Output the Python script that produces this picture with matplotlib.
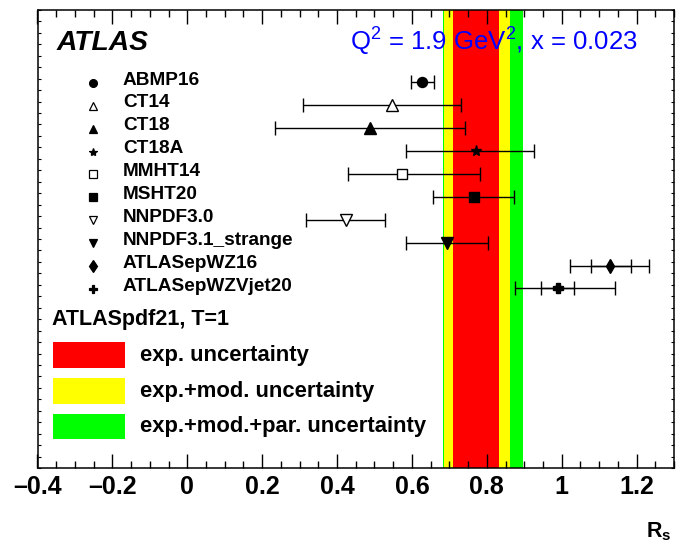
import matplotlib
matplotlib.use("Agg")
import matplotlib.pyplot as plt
import matplotlib.transforms as mtransforms
from matplotlib.ticker import MultipleLocator, FuncFormatter

plt.rcParams['font.family'] = ['Liberation Sans', 'DejaVu Sans']
plt.rcParams['font.weight'] = 'bold'
plt.rcParams['mathtext.fontset'] = 'custom'
plt.rcParams['mathtext.rm'] = 'Liberation Sans:normal'
plt.rcParams['mathtext.bf'] = 'Liberation Sans:bold'
plt.rcParams['mathtext.it'] = 'Liberation Sans:italic:normal'

# ---- data ----
pdf_names = ["ABMP16", "CT14", "CT18", "CT18A", "MMHT14", "MSHT20",
             "NNPDF3.0", "NNPDF3.1_strange", "ATLASepWZ16", "ATLASepWZVjet20"]
rs_central = [0.628, 0.548, 0.488, 0.770, 0.573, 0.767, 0.423, 0.694, 1.130, 0.989]
rs_low = [0.598, 0.308, 0.235, 0.584, 0.430, 0.656, 0.317, 0.585, 1.022, 0.874]
rs_high = [0.660, 0.731, 0.741, 0.925, 0.783, 0.872, 0.528, 0.802, 1.232, 1.143]
# inner (experimental) errors for the ATLAS fits
inner_names = ["ATLASepWZ16", "ATLASepWZVjet20"]
inner_low = [1.077, 0.945]
inner_high = [1.184, 1.032]

band_labels = ["exp. uncertainty", "exp.+mod. uncertainty", "exp.+mod.+par. uncertainty"]
band_low = [0.710, 0.685, 0.684]
band_high = [0.833, 0.862, 0.897]
band_colors = ["#ff0000", "#ffff00", "#00ff00"]

# marker styles: (marker, filled, size plot, size legend)
styles = {
    "ABMP16": ("o", True, 7.2, 5.6),
    "CT14": ("^", False, 8.0, 6.0),
    "CT18": ("^", True, 8.0, 6.0),
    "CT18A": ("*", True, 8.0, 6.0),
    "MMHT14": ("s", False, 7.2, 5.6),
    "MSHT20": ("s", True, 7.6, 5.6),
    "NNPDF3.0": ("v", False, 8.0, 6.0),
    "NNPDF3.1_strange": ("v", True, 8.0, 6.0),
    "ATLASepWZ16": ("d", True, 7.5, 6.0),
    "ATLASepWZVjet20": ("P", True, 7.5, 6.0),
}

W, H = 676, 552
fig = plt.figure(figsize=(W / 100, H / 100), dpi=100)
L, R, T, B = 37.5, 674, 10, 468
ax = fig.add_axes([L / W, 1 - B / H, (R - L) / W, (B - T) / H])
ax.set_xlim(-0.4, 1.3)
ax.set_ylim(0, 20)


def fx(px):
    return (px - L) / (R - L)


def fy(py):
    return (B - py) / (B - T)


# bands (widest first)
for lo, hi, c in sorted(zip(band_low, band_high, band_colors), key=lambda t: -(t[1] - t[0])):
    ax.axvspan(lo, hi, color=c, lw=0, zorder=1)

blend = mtransforms.blended_transform_factory(ax.transAxes, ax.transData)
row_y = [16.84 - i for i in range(len(pdf_names))]
for i, name in enumerate(pdf_names):
    m, filled, ms, msl = styles[name]
    y = row_y[i]
    c = rs_central[i]
    ax.errorbar([c], [y], xerr=[[c - rs_low[i]], [rs_high[i] - c]], fmt='none',
                ecolor='black', elinewidth=1.0, capsize=5, capthick=1.0, zorder=3)
    if name in inner_names:
        j = inner_names.index(name)
        ax.errorbar([c], [y], xerr=[[c - inner_low[j]], [inner_high[j] - c]], fmt='none',
                    ecolor='black', elinewidth=1.0, capsize=5, capthick=1.0, zorder=3)
    ax.plot([c], [y], marker=m, ms=ms, mfc='black' if filled else 'white',
            mec='black', mew=1.0, ls='none', zorder=4)
    # legend entry
    ax.plot([fx(92.5)], [y - 0.02], marker=m, ms=msl, mfc='black' if filled else 'white',
            mec='black', mew=0.9, ls='none', transform=blend, zorder=4, clip_on=False)
    ax.text(fx(123), y + 0.1, name, transform=blend, fontsize=13.7, fontweight='bold',
            ha='left', va='center', zorder=5)

# band legend
ax.text(fx(52), fy(320), "ATLASpdf21, T=1", transform=ax.transAxes, fontsize=15.5,
        fontweight='bold', ha='left', va='center')
box_y = [355, 391, 426.7]
for lab, c, yc in zip(band_labels, band_colors, box_y):
    ax.add_patch(plt.Rectangle((fx(53), fy(yc + 12.7)), fx(125) - fx(53), 25.4 / (B - T),
                               transform=ax.transAxes, facecolor=c, edgecolor='none', zorder=5))
    ax.text(fx(140), fy(yc), lab, transform=ax.transAxes, fontsize=15.8,
            fontweight='bold', ha='left', va='center', zorder=5)

# headers
ax.text(fx(57), fy(42.5), "ATLAS", transform=ax.transAxes, fontsize=20.3,
        fontweight='bold', fontstyle='italic', ha='left', va='center')
ax.text(fx(638), fy(42), r"Q$^{\mathregular{2}}$ = 1.9 GeV$^{\mathregular{2}}$, x = 0.023",
        transform=ax.transAxes, fontsize=18.5, fontweight='normal', color='#0000ff',
        ha='right', va='center')

# axes styling
for s in ax.spines.values():
    s.set_linewidth(1.1)
ax.xaxis.set_major_locator(MultipleLocator(0.2))
ax.xaxis.set_minor_locator(MultipleLocator(0.05))
ax.xaxis.set_major_formatter(FuncFormatter(
    lambda v, p: (f"{round(v, 6) + 0.0:g}").replace('-', '\u2013')))
ax.tick_params(axis='x', which='major', direction='in', length=10, width=1.0,
               top=True, bottom=True, labelsize=18, pad=5)
ax.tick_params(axis='x', which='minor', direction='in', length=5, width=1.0,
               top=True, bottom=True)
ax.yaxis.set_major_locator(MultipleLocator(0.5))
ax.yaxis.set_minor_locator(MultipleLocator(0.5))
ax.tick_params(axis='y', which='both', direction='in', length=2, width=0.8,
               left=True, right=True, labelleft=False)
for lab in ax.get_xticklabels():
    lab.set_fontweight('bold')

fig.text(671 / W, 1 - 537 / H, r"$\mathbf{R_{s}}$", fontsize=15.5, ha='right', va='baseline')

fig.savefig("out.png", dpi=100)
